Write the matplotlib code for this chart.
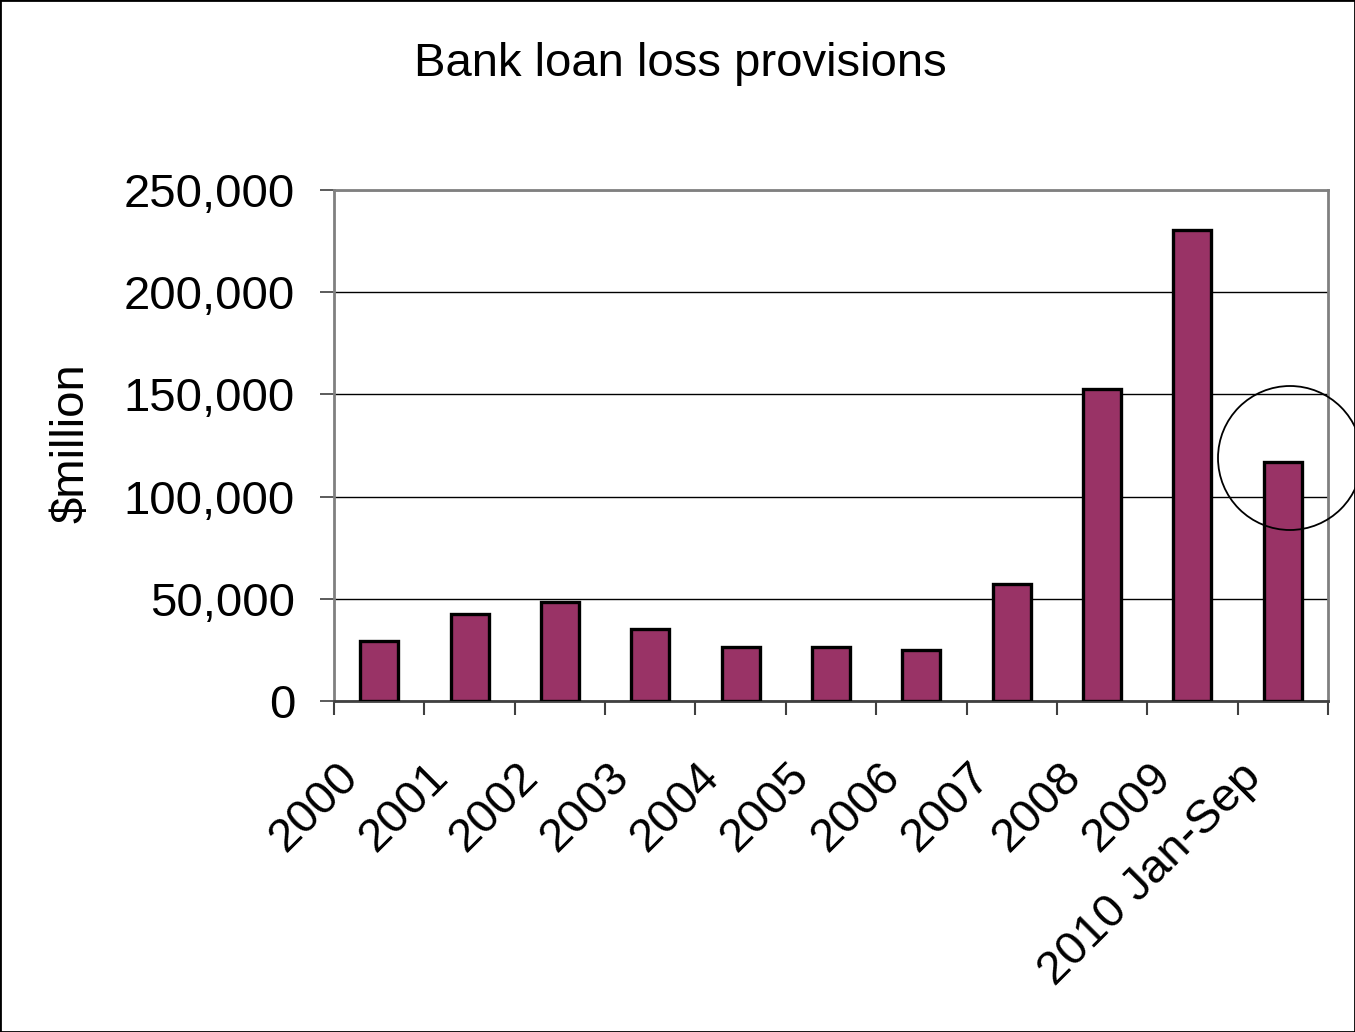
import matplotlib
matplotlib.use("Agg")
import matplotlib.pyplot as plt
from matplotlib.patches import Ellipse, Rectangle
from matplotlib.ticker import FuncFormatter
from matplotlib.transforms import ScaledTranslation

categories = ["2000", "2001", "2002", "2003", "2004", "2005", "2006",
              "2007", "2008", "2009", "2010 Jan-Sep"]
provisions = [29500, 42800, 48500, 35400, 26400, 26400, 24900,
              57400, 152500, 230400, 117100]
y_ticks = [0, 50000, 100000, 150000, 200000, 250000]

plt.rcParams['font.family'] = ['Liberation Sans', 'DejaVu Sans']
FS = 34

fig = plt.figure(figsize=(13.55, 10.32), dpi=100)
ax = fig.add_axes([334/1355, 1-701/1032, (1328-334)/1355, (701-190)/1032])

x = list(range(len(categories)))
ax.bar(x, provisions, width=0.42, color="#993366", edgecolor="black",
       linewidth=2.4, zorder=3)

ax.set_xlim(-0.5, len(categories) - 0.5)
ax.set_ylim(0, 250000)
ax.set_yticks(y_ticks)
ax.yaxis.set_major_formatter(FuncFormatter(lambda v, p: f"{int(v):,}"))
ax.yaxis.grid(True, color="black", linewidth=1.0, zorder=0)
ax.set_axisbelow(True)

ax.set_xticks([i - 0.5 for i in range(len(categories) + 1)])
ax.set_xticklabels([])
ax.set_xticks(x, minor=True)
ax.set_xticklabels(categories, minor=True, rotation=45, ha='right', va='center',
                   rotation_mode='anchor', fontsize=FS)
ax.tick_params(axis='x', which='minor', length=0, pad=50)
ax.tick_params(axis='x', which='major', length=10, width=1.5, color="#404040", direction='out')
ax.tick_params(axis='y', length=10, width=1.2, color="#404040", direction='out',
               labelsize=FS, pad=18)
for lbl in ax.get_xticklabels(minor=True):
    lbl.set_transform(lbl.get_transform() + ScaledTranslation(-0.28, 0, fig.dpi_scale_trans))

for s in ['left', 'top', 'right']:
    ax.spines[s].set_color("#808080")
    ax.spines[s].set_linewidth(2)
ax.spines['bottom'].set_color("#404040")
ax.spines['bottom'].set_linewidth(2)

fig.text(71/1355, 1-443/1032, "$million", fontsize=FS, rotation=90,
         ha='center', va='center')
fig.text(680/1355, 1-64/1032, "Bank loan loss provisions", fontsize=FS,
         ha='center', va='center')

fig.patches.append(Ellipse((1290/1355, 1-458/1032), 144/1355, 144/1032,
                           transform=fig.transFigure, fill=False,
                           edgecolor="black", linewidth=1.3))
fig.patches.append(Rectangle((0, 0), 1, 1, transform=fig.transFigure,
                             fill=False, edgecolor="black", linewidth=2))

fig.savefig("out.png", dpi=100)
